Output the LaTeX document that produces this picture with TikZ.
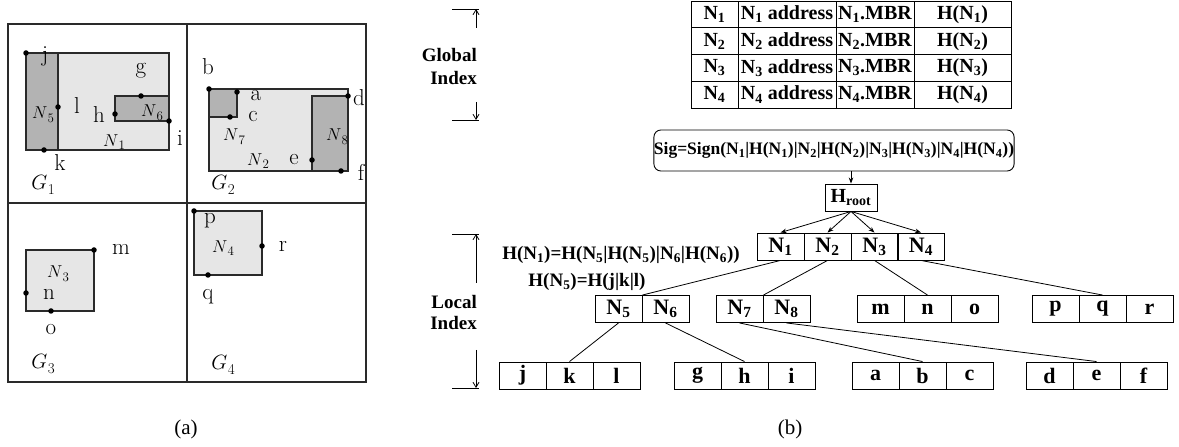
\documentclass[tikz,border=0pt]{standalone}
\usepackage{fontspec}
\usetikzlibrary{arrows.meta,calc}
\newfontfamily\tnr{Liberation Serif}
\definecolor{lightfill}{HTML}{E6E6E6}
\definecolor{darkfill}{HTML}{B3B3B3}
\definecolor{edgecol}{HTML}{2A2A2A}
\tikzset{
  gridline/.style={line width=1.4bp, draw=edgecol},
  mbrbox/.style={line width=1.3bp, draw=edgecol, fill=lightfill},
  subbox/.style={line width=1.3bp, draw=edgecol, fill=darkfill},
  dotpt/.style={circle, fill=black, inner sep=0pt, minimum size=5.5bp},
  lbl/.style={font=\fontsize{23bp}{26bp}\selectfont, inner sep=0pt},
  nlbl/.style={font=\fontsize{17bp}{20bp}\selectfont, inner sep=0pt},
  glbl/.style={font=\fontsize{19bp}{22bp}\selectfont, inner sep=0pt},
  cellbox/.style={draw, line width=0.9bp, minimum width=47bp, minimum height=27bp, inner sep=0pt, font=\tnr\bfseries\fontsize{22bp}{25bp}\selectfont},
  tcell/.style={draw, line width=0.9bp, minimum height=26.8bp, inner sep=0pt, font=\tnr\bfseries\fontsize{20bp}{24bp}\selectfont},
  btxt/.style={font=\tnr\bfseries\fontsize{19bp}{23bp}\selectfont, inner sep=0pt},
  captxt/.style={font=\tnr\fontsize{21bp}{24bp}\selectfont, inner sep=0pt},
  arr/.style={-{Stealth[length=6bp,width=4.5bp]}, line width=0.8bp},
  brk/.style={-{Straight Barb[length=5bp,width=6bp]}, line width=0.8bp},
  conn/.style={line width=0.8bp},
}
\newcommand\sbs[1]{\textsubscript{#1}}
\newcommand\Nlab[1]{$N$\kern0.3bp\raisebox{-3.5bp}{\fontsize{13bp}{13bp}\selectfont #1}}
\newcommand\Glab[1]{$G$\kern0.5bp\raisebox{-4.5bp}{\fontsize{15bp}{15bp}\selectfont #1}}
\begin{document}
\begin{tikzpicture}[x=1bp,y=-1bp]
\useasboundingbox (0,0) rectangle (1179,447);
% ---------------- panel (a) ----------------
\draw[gridline] (8,24) rectangle (366,382);
\draw[gridline] (187,24) -- (187,382);
\draw[gridline] (8,203) -- (366,203);
% G1
\draw[mbrbox] (26,53) rectangle (169,150);
\draw[subbox] (26,53) rectangle (58,150);
\draw[subbox] (115,96) rectangle (169,121);
% G2
\draw[mbrbox] (209,89) rectangle (348,171);
\draw[subbox] (209,89) rectangle (237,117);
\draw[subbox] (312,96) rectangle (348,171);
% G3, G4
\draw[mbrbox] (26,250) rectangle (94,311);
\draw[mbrbox] (194,211) rectangle (262,275);
% points
\foreach \n/\px/\py in {j/26/53,l/58/107,k/44/150,h/115/114,g/141/96,i/169/121,
  b/209/89,a/237/92,c/230/117,d/348/96,e/312/160,f/341/171,
  m/94/250,n/26/293,o/51/311,p/194/211,r/262/246,q/208/275}
  \node[dotpt] (P\n) at (\px,\py) {};
% point labels
\foreach \n/\px/\py in {j/45/56,g/141/71,l/77/106,h/99/115,i/180/138,k/60/163,
  b/208/67,a/256/96,c/253/117,d/359/98,e/294/160,f/361/172,
  m/121/249,n/49/294,o/51/330,p/210/221,r/283/246,q/208/297}
  \node[lbl] (L\n) at (\px,\py) {\n};
\node[nlbl] (LN1) at (114,142) {\Nlab{1}};
\node[nlbl] (LN5) at (43,115) {\Nlab{5}};
\node[nlbl] (LN6) at (152,113) {\Nlab{6}};
\node[nlbl] (LN2) at (258,161) {\Nlab{2}};
\node[nlbl] (LN7) at (234,137) {\Nlab{7}};
\node[nlbl] (LN8) at (337,137) {\Nlab{8}};
\node[nlbl] (LN3) at (58,274) {\Nlab{3}};
\node[nlbl] (LN4) at (223,248) {\Nlab{4}};
\node[glbl] (LG1) at (43,185) {\Glab{1}};
\node[glbl] (LG2) at (223,185) {\Glab{2}};
\node[glbl] (LG3) at (43,364) {\Glab{3}};
\node[glbl] (LG4) at (223,365) {\Glab{4}};
\node[captxt] (capa) at (186,429) {(a)};
% ---------------- panel (b) ----------------
% global index bracket
\coordinate (gA) at (452,9); \coordinate (gB) at (479,9);
\coordinate (gC) at (452,120); \coordinate (gD) at (479,120);
\coordinate (gE) at (476,28); \coordinate (gF) at (476,9);
\coordinate (gG) at (476,102); \coordinate (gH) at (476,120);
\draw[conn] (gA) -- (gB); \draw[conn] (gC) -- (gD);
\draw[brk] (gE) -- (gF); \draw[brk] (gG) -- (gH);
\node[btxt, align=right, anchor=east] (glob) at (477,66.5) {Global\\Index};
% local index bracket
\coordinate (lA) at (452,234); \coordinate (lB) at (479,234);
\coordinate (lC) at (452,388); \coordinate (lD) at (479,388);
\coordinate (lE) at (476,283); \coordinate (lF) at (476,234);
\coordinate (lG) at (476,350); \coordinate (lH) at (476,388);
\draw[conn] (lA) -- (lB); \draw[conn] (lC) -- (lD);
\draw[brk] (lE) -- (lF); \draw[brk] (lG) -- (lH);
\node[btxt, align=right, anchor=east, font=\tnr\bfseries\fontsize{19bp}{21.5bp}\selectfont] (loc) at (477,312.5) {Local\\Index};
% table
\foreach \i/\y in {1/14.5,2/41.2,3/67.9,4/94.6} {
  \node[tcell, minimum width=47bp] (ta\i) at (714.5,\y) {N\sbs{\i}};
  \node[tcell, minimum width=98bp] (tb\i) at (787,\y) {N\sbs{\i} address};
  \node[tcell, minimum width=78bp] (tc\i) at (875,\y) {N\sbs{\i}.MBR};
  \node[tcell, minimum width=97bp] (td\i) at (962.5,\y) {H(N\sbs{\i})};
}
% signature
\node[draw, line width=0.9bp, rounded corners=7bp, minimum width=360bp, minimum height=41bp, inner sep=0pt,
  font=\tnr\bfseries\fontsize{17.5bp}{21bp}\selectfont] (sig) at (834,150.5)
  {Sig=Sign(N\sbs{1}|H(N\sbs{1})|N\sbs{2}|H(N\sbs{2})|N\sbs{3}|H(N\sbs{3})|N\sbs{4}|H(N\sbs{4}))};
\node[draw, line width=0.9bp, minimum width=52bp, minimum height=27bp, inner sep=0pt,
  font=\tnr\bfseries\fontsize{20bp}{24bp}\selectfont] (hroot) at (851,197.5) {H\sbs{root}};
\draw[arr] (hroot.north |- sig.south) -- (hroot.north);
% first level
\foreach \n/\px in {1/780.5,2/827.5,3/874.5,4/921}
  \node[cellbox] (N\n) at (\px,246.5) {N\sbs{\n}};
\foreach \n in {1,2,3,4}
  \draw[arr] (hroot.south) -- (N\n.north);
% second level
\foreach \n/\px in {5/618.5,6/665.5,7/739.5,8/786.5}
  \node[cellbox] (N\n) at (\px,309) {N\sbs{\n}};
\foreach \n/\px in {m/880.5,n/927.5,o/974.5,p/1055.5,q/1102.5,r/1149.5}
  \node[cellbox] (\n) at (\px,309) {\n};
% leaves
\foreach \n/\px in {j/522.5,k/569.5,l/616.5,g/697.5,h/744.5,i/791.5,a/875.5,b/922.5,c/969.5,d/1049.5,e/1096.5,f/1143.5}
  \node[cellbox] (\n) at (\px,375.5) {\n};
% connectors
\draw[conn] (N1.south) -- (N5.north east);
\draw[conn] (N2.south) -- (N7.north east);
\draw[conn] (N3.south) -- (n.north);
\draw[conn] (N4.south) -- (q.north);
\draw[conn] (N5.south) -- (k.north);
\draw[conn] (N6.south) -- (h.north);
\draw[conn] (N7.south) -- (b.north);
\draw[conn] (N8.south) -- (e.north);
% formulas
\node[btxt, anchor=base] (f1) at (621,259.5) {H(N\sbs{1})=H(N\sbs{5}|H(N\sbs{5})|N\sbs{6}|H(N\sbs{6}))};
\node[btxt, anchor=base] (f2) at (587,286.5) {H(N\sbs{5})=H(j|k|l)};
\node[captxt] (capb) at (790,429) {(b)};
\end{tikzpicture}
\end{document}
